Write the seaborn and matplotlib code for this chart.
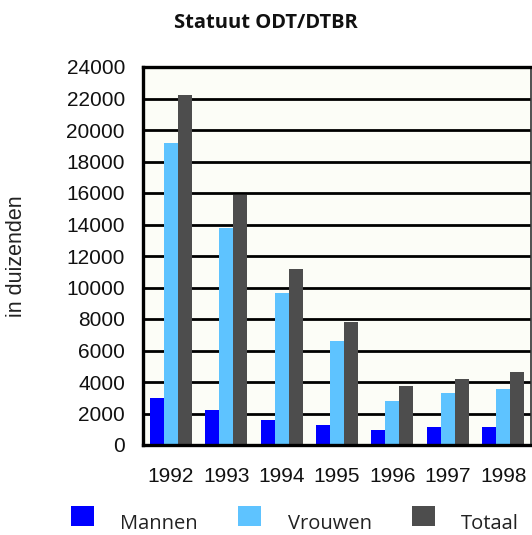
import matplotlib
matplotlib.use("Agg")
import matplotlib.pyplot as plt
from matplotlib.patches import Rectangle
from matplotlib.legend_handler import HandlerPatch
import seaborn as sns
import pandas as pd

years = ["1992", "1993", "1994", "1995", "1996", "1997", "1998"]
mannen = [3000, 2230, 1600, 1280, 950, 1150, 1150]
vrouwen = [19200, 13750, 9680, 6620, 2800, 3320, 3570]
totaal = [22250, 15900, 11200, 7820, 3750, 4200, 4650]
series = ["Mannen", "Vrouwen", "Totaal"]
colors = {"Mannen": "#0000FF", "Vrouwen": "#5EC3FF", "Totaal": "#4D4D4D"}
yticks = list(range(0, 24001, 2000))

rows = []
for name, vals in zip(series, [mannen, vrouwen, totaal]):
    for y, v in zip(years, vals):
        rows.append({"Jaar": y, "Waarde": v, "Reeks": name})
df = pd.DataFrame(rows)

sns.set_theme(style="white")
plt.rcParams["font.family"] = ["Liberation Sans", "DejaVu Sans"]

W, H = 532, 535
fig = plt.figure(figsize=(W / 100, H / 100), dpi=100)
ax = fig.add_axes([143 / W, (H - 445) / H, (531 - 143) / W, (445 - 67) / H])
ax.set_facecolor("#FCFDF7")

sns.barplot(data=df, x="Jaar", y="Waarde", hue="Reeks", order=years,
            hue_order=series, palette=colors, width=0.76, saturation=1,
            linewidth=0, ax=ax, legend=False, errorbar=None)

ax.set_xlim(-0.5, len(years) - 0.5)
ax.set_ylim(0, 24000)
ax.set_yticks(yticks)
ax.set_yticklabels([str(t) for t in yticks])
ax.yaxis.grid(True, color="black", linewidth=2)
ax.xaxis.grid(False)
ax.set_axisbelow(True)
ax.tick_params(axis="y", length=0, pad=13, labelsize=15, labelcolor="#111111")
ax.tick_params(axis="x", length=0, pad=16, labelsize=15, labelcolor="#111111")
ax.set_xlabel("")
ax.set_ylabel("in duizenden", fontsize=15.5, color="#222222", labelpad=28,
              fontweight="light")

for side in ["left", "bottom", "top"]:
    ax.spines[side].set_color("black")
    ax.spines[side].set_linewidth(2.4)
ax.spines["right"].set_color("#333333")
ax.spines["right"].set_linewidth(1.2)

fig.text(266 / W, 1 - 23 / H, "Statuut ODT/DTBR", ha="center", va="center",
         fontsize=14.5, fontweight="bold", family="Open Sans", color="#111111")


def raised_square(legend, orig_handle, xdescent, ydescent, width, height, fontsize):
    return Rectangle((-xdescent, -ydescent + 4.0), width, height)


handles = [Rectangle((0, 0), 1, 1, facecolor=colors[s], edgecolor="none") for s in series]
leg = fig.legend(handles, series, loc="upper left",
                 bbox_to_anchor=(71 / W, 1 - 512 / H), bbox_transform=fig.transFigure,
                 ncol=3, frameon=False, borderpad=0, borderaxespad=0,
                 handlelength=1.15, handleheight=1.15, handletextpad=1.3,
                 columnspacing=2.0, prop={"family": "Open Sans", "size": 14.5},
                 handler_map={Rectangle: HandlerPatch(patch_func=raised_square)})
for t in leg.get_texts():
    t.set_color("#222222")

fig.savefig("out.png", dpi=100)
